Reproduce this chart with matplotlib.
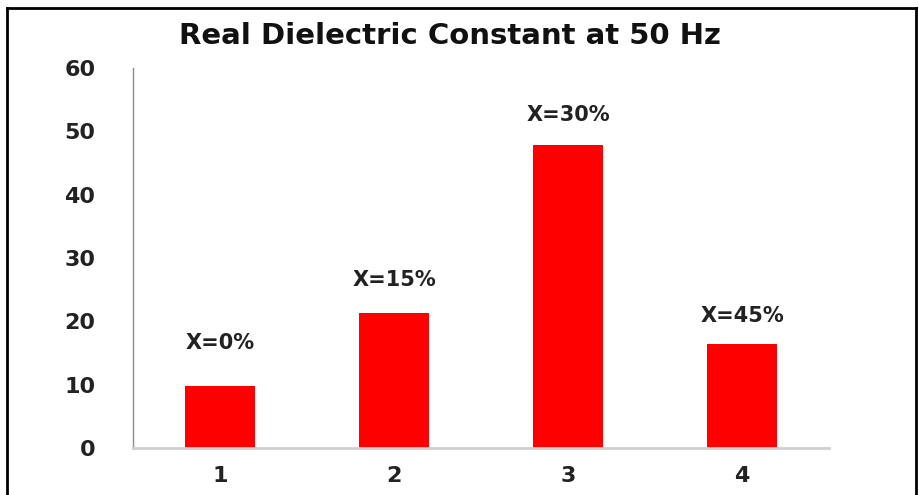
import matplotlib.pyplot as plt
from matplotlib.lines import Line2D

categories = ["1", "2", "3", "4"]
values = [9.8, 21.3, 47.8, 16.4]
bar_labels = ["X=0%", "X=15%", "X=30%", "X=45%"]
label_offsets = [31, 24, 22, 20]  # points above the bar top

fig = plt.figure(figsize=(9.2, 4.95), dpi=100)
ax = fig.add_axes([0.1446, 0.0949, 0.7565, 0.7677])

x = range(len(categories))
ax.bar(x, values, width=0.4, color="#ff0000")

for i, (v, lab) in enumerate(zip(values, bar_labels)):
    ax.annotate(lab, (i, v), xytext=(0, label_offsets[i]), textcoords="offset points",
                ha="center", va="center", fontsize=15, fontweight="bold",
                fontfamily="DejaVu Sans", color="#222222")

ax.set_xlim(-0.5, len(categories) - 0.5)
ax.set_ylim(0, 60)
ax.set_yticks(range(0, 61, 10))
ax.set_xticks(list(x))
ax.set_xticklabels(categories)
ax.tick_params(length=0, labelsize=16, pad=13, colors="#222222")
ax.tick_params(axis="y", pad=27)
for t in ax.get_xticklabels() + ax.get_yticklabels():
    t.set_fontweight("bold")

for s in ["top", "right"]:
    ax.spines[s].set_visible(False)
ax.spines["left"].set_color("#8c8c8c")
ax.spines["left"].set_linewidth(1)
ax.spines["bottom"].set_color("#cfcfcf")
ax.spines["bottom"].set_linewidth(2)

fig.text(0.489, 0.911, "Real Dielectric Constant at 50 Hz", ha="center", va="baseline",
         fontsize=21, fontweight="bold", fontfamily="DejaVu Sans", color="#111111")

# outer frame (bottom edge is cut off in the original)
W, H = 920, 495
frame = [((7, 7), (8, H)), ((7, 916), (8, 8)), ((916, 916), (8, H))]
for xs, ys in frame:
    fig.add_artist(Line2D([xs[0] / W, xs[1] / W], [1 - ys[0] / H, 1 - ys[1] / H],
                          color="black", linewidth=2, transform=fig.transFigure))

fig.savefig("out.png", dpi=100)
